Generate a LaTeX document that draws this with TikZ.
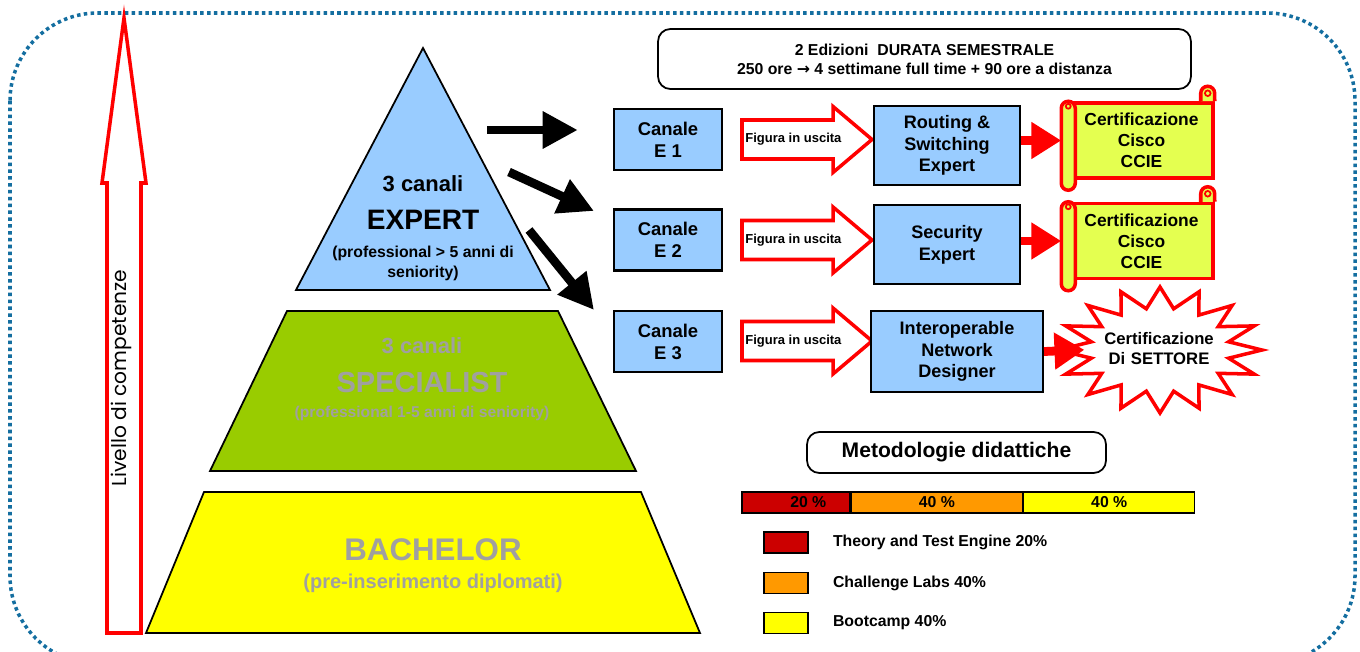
\documentclass[tikz,border=0pt]{standalone}
\usepackage{fontspec}
\setmainfont{Liberation Sans}
\newfontfamily\geofont{Poppins}
\newfontfamily\arrowfont{DejaVu Sans}
\usetikzlibrary{arrows.meta,positioning,calc}
\definecolor{boxblue}{RGB}{153,204,255}
\definecolor{leafgreen}{RGB}{153,204,0}
\definecolor{pureyellow}{RGB}{255,255,0}
\definecolor{scrollyellow}{RGB}{228,255,80}
\definecolor{darkred}{RGB}{204,0,0}
\definecolor{orangebar}{RGB}{255,153,0}
\definecolor{txtgray}{RGB}{160,160,160}
\definecolor{dotblue}{RGB}{20,110,160}
\newcommand{\fs}[1]{\bfseries\fontsize{#1pt}{\fpeval{1.2*#1}pt}\selectfont}
\tikzset{
  frame/.style={draw=dotblue,line width=2pt,dash pattern=on 2pt off 1.9pt,rounded corners=50pt},
  level/.style={draw,line width=1pt},
  pyrtext/.style={anchor=base,inner sep=0pt},
  canale/.style={draw,line width=1.2pt,fill=boxblue,minimum width=2.16cm,minimum height=1.22cm,
    align=center,inner sep=1pt,font=\fs{10.5}},
  ruolo/.style={draw,line width=1.2pt,fill=boxblue,minimum width=2.92cm,minimum height=1.58cm,
    align=center,inner sep=1pt,font=\fs{10.3}},
  cert/.style={draw=red,line width=2pt,fill=scrollyellow,minimum width=2.86cm,minimum height=1.5cm,
    align=center,inner sep=1pt,font=\fs{9.9}},
  roll/.style={draw=red,line width=2pt,fill=scrollyellow},
  info/.style={draw,line width=1pt,rounded corners=7pt,fill=white,align=center},
  hollow/.style={draw=red,line width=2pt,fill=white,line join=miter},
  bigarrow/.style={-{Triangle[length=20pt,width=20pt]},line width=5pt},
  redarrow/.style={-{Triangle[length=17pt,width=20pt]},line width=5pt,red},
  bar/.style={draw,line width=0.8pt,minimum height=0.42cm,inner sep=0pt,font=\fs{9}},
  legend/.style={draw,line width=0.8pt,minimum width=0.88cm,minimum height=0.42cm},
  legtext/.style={anchor=west,inner sep=0pt,font=\fs{9}}
}

\begin{document}
\begin{tikzpicture}[x=0.02cm,y=-0.02cm]
  \useasboundingbox (0,0) rectangle (1360,652);
  \clip (0,0) rectangle (1360,652);

  % cornice tratteggiata
  \draw[frame] (10,13) rectangle (1355,664);

  % freccia livello
  \draw[hollow] (107,633) -- (107,183) -- (102,183) -- (124,18) -- (146,183)
    -- (141,183) -- (141,633) -- cycle;
  \node[rotate=90,font=\geofont\fontsize{11.5pt}{13pt}\selectfont] (livello) at (121,378) {Livello di competenze};

  % piramide
  \draw[level,fill=boxblue] (423,48) -- (550,290) -- (296,290) -- cycle;
  \draw[level,fill=leafgreen] (287,311) -- (558,311) -- (636,471) -- (210,471) -- cycle;
  \draw[level,fill=pureyellow] (204,492) -- (641,492) -- (700,633) -- (146,633) -- cycle;

  \node[pyrtext,font=\fs{12.5}] (expcan) at (423,192) {3 canali};
  \node[pyrtext,font=\fs{16}] (expert) at (423,230) {EXPERT};
  \node[pyrtext,font=\fs{9}] (expsub) at (423,257) {(professional > 5 anni di};
  \node[pyrtext,font=\fs{9}] (expsen) at (423,277) {seniority)};

  \node[pyrtext,font=\fs{12.5},txtgray] (spccan) at (422,353) {3 canali};
  \node[pyrtext,font=\fs{16.5},txtgray] (spec) at (422,392) {SPECIALIST};
  \node[pyrtext,font=\fs{8.9},txtgray] (spcsub) at (422,417) {(professional 1-5 anni di seniority)};

  \node[pyrtext,font=\fs{17.8},txtgray] (bach) at (433,560) {BACHELOR};
  \node[pyrtext,font=\fs{11.4},txtgray] (bachsub) at (433,588) {(pre-inserimento diplomati)};

  % durata
  \node[info,minimum width=10.66cm,minimum height=1.2cm,font=\fs{9}] (durata) at (924.5,59)
    {2 Edizioni\ \ DURATA SEMESTRALE\\250 ore {\arrowfont\bfseries →} 4 settimane full time + 90 ore a distanza};

  % canali
  \node[canale] (can1) at (668,139.5) {Canale\\E 1};
  \node[canale] (can2) at (668,240) {Canale\\E 2};
  \node[canale] (can3) at (668,341.5) {Canale\\E 3};

  \coordinate (a1) at (487,130);
  \coordinate (a2) at (509,172);
  \coordinate (a3) at (529,230);
  \draw[bigarrow,shorten >=20pt] (a1) -- (a1 -| can1.west);
  \draw[bigarrow] (a2) -- ($(a2)!1!(594,211)$);
  \draw[bigarrow] (a3) -- ($(a3)!1!(594,310)$);

  % figura in uscita
  \foreach \r/\y in {1/139.5,2/240,3/341}{
    \draw[hollow] (742,\y-19.5) -- (833,\y-19.5) -- (833,\y-33) -- (872,\y)
      -- (833,\y+33) -- (833,\y+19.5) -- (742,\y+19.5) -- cycle;
    \node[anchor=west,inner sep=0pt,font=\fs{7.4}] (fig\r) at (745,\y) {Figura in uscita};
  }

  % profili
  \node[ruolo] (ruolo1) at (947,145.5) {Routing \&\\Switching\\Expert};
  \node[ruolo] (ruolo2) at (947,244.5) {Security\\Expert};
  \node[ruolo,minimum width=3.44cm,minimum height=1.62cm] (ruolo3) at (957,351.5)
    {Interoperable\\Network\\Designer};

  % certificazioni
  \foreach \r/\y in {1/140.5,2/241}{
    \node[cert] (cert\r) at (1141.5,\y) {Certificazione\\Cisco\\CCIE};
    \draw[roll] ($(cert\r.north east)+(-14,0)$) -- ++(0,-8)
      arc[start angle=180,end angle=0,radius=3.97pt] -- (cert\r.north east);
    \draw[red,line width=1pt] ($(cert\r.north east)+(-7,-8)$) circle[radius=1.6pt];
    \draw[roll,rounded corners=4pt] ($(cert\r.north west)+(-7,0)$) rectangle ($(cert\r.north west)+(7,89)$);
    \draw[red,line width=1pt] ($(cert\r.north west)+(0,5)$) circle[radius=1.4pt];
    \draw[redarrow,shorten >=4pt] (ruolo\r.east |- cert\r.west) -- (cert\r.west);
  }

  \draw[hollow] plot[variable=\k,samples at={0,...,31}]
    ({1160+(mod(\k,2)==0?102:70)*cos(90+\k*11.25)},{350-(mod(\k,2)==0?63:42)*sin(90+\k*11.25)}) -- cycle;
  \node[align=center,text width=2.2cm,inner sep=0pt,font=\fs{9.5}] (settore) at (1159,349)
    {Certificazione\\Di SETTORE};
  \draw[redarrow,shorten >=11pt] (ruolo3.east) -- (settore.west);

  % metodologie
  \node[info,minimum width=5.98cm,minimum height=0.82cm,font=\fs{12}] (metodo) at (956.5,452.5)
    {Metodologie didattiche};

  \node[bar,fill=darkred,minimum width=2.16cm] (bar1) at (796,502.5) {\hspace*{14pt}20 \%};
  \node[bar,fill=orangebar,minimum width=3.42cm,right=0pt of bar1] (bar2) {40 \%};
  \node[bar,fill=pureyellow,minimum width=3.42cm,right=0pt of bar2] (bar3) {40 \%};

  \node[legend,fill=darkred] (leg1) at (786,542.5) {};
  \node[legend,fill=orangebar] (leg2) at (786,583) {};
  \node[legend,fill=pureyellow] (leg3) at (786,623) {};
  \node[legtext,right=0.48cm of leg1] (legt1) {Theory and Test Engine 20\%};
  \node[legtext,right=0.48cm of leg2] (legt2) {Challenge Labs 40\%};
  \node[legtext,right=0.48cm of leg3] (legt3) {Bootcamp 40\%};
\end{tikzpicture}
\end{document}
